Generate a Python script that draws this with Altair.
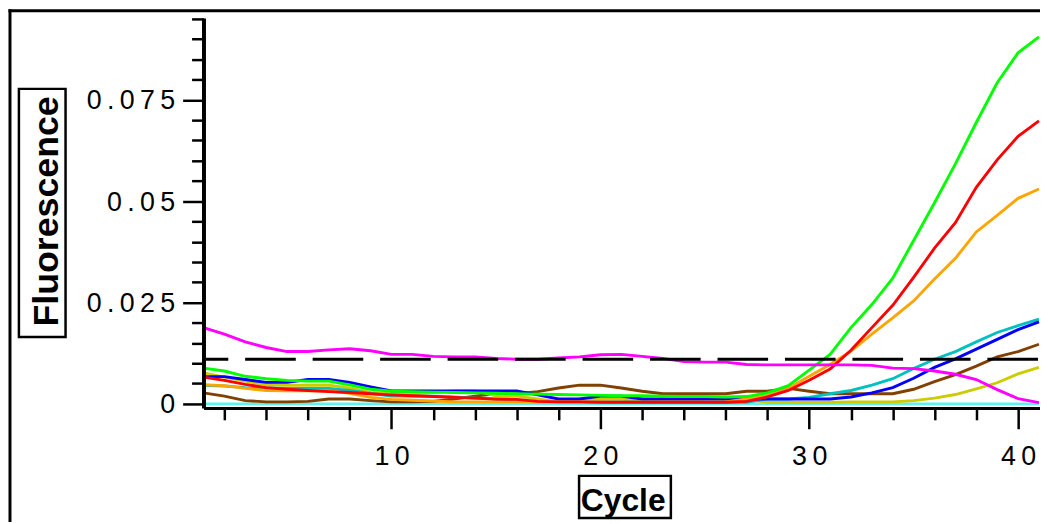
import altair as alt
import pandas as pd

# ---------------- data ----------------
cycles = list(range(1, 42))

ntc = [0.0, 0.0, 0.0, 0.0, 0.0, 0.0, 0.0, 0.0, 0.0, 0.0,
       0.0, 0.0, 0.0, 0.0, 0.0, 0.0, 0.0, 0.0, 0.0, 0.0,
       0.0, 0.0, 0.0, 0.0, 0.0, 0.0, 0.0, 0.0, 0.0, 0.0,
       0.0, 0.0, 0.0, 0.0, 0.0, 0.0, 0.0, 0.0, 0.0, 0.0, 0.0]
brown = [0.0027, 0.0019, 0.0008, 0.0005, 0.0005, 0.0006, 0.0012, 0.0012, 0.0008, 0.0005,
         0.0005, 0.0006, 0.0012, 0.0019, 0.0025, 0.0025, 0.0030, 0.0039, 0.0046, 0.0046,
         0.0039, 0.0031, 0.0025, 0.0025, 0.0025, 0.0025, 0.0031, 0.0031, 0.0038, 0.0031,
         0.0025, 0.0025, 0.0025, 0.0025, 0.0036, 0.0055, 0.0072, 0.0093, 0.0116, 0.0129, 0.0147]
yellow = [0.0076, 0.0066, 0.0056, 0.0047, 0.0046, 0.0046, 0.0046, 0.0039, 0.0028, 0.0025,
          0.0025, 0.0028, 0.0032, 0.0032, 0.0020, 0.0019, 0.0012, 0.0005, 0.0012, 0.0012,
          0.0012, 0.0006, 0.0012, 0.0006, 0.0012, 0.0012, 0.0012, 0.0004, 0.0004, 0.0004,
          0.0004, 0.0005, 0.0005, 0.0005, 0.0008, 0.0014, 0.0023, 0.0037, 0.0052, 0.0074, 0.0090]
teal = [0.0046, 0.0044, 0.0040, 0.0039, 0.0038, 0.0038, 0.0038, 0.0033, 0.0026, 0.0019,
        0.0019, 0.0019, 0.0017, 0.0014, 0.0011, 0.0006, 0.0005, 0.0005, 0.0005, 0.0005,
        0.0005, 0.0005, 0.0004, 0.0004, 0.0004, 0.0004, 0.0004, 0.0012, 0.0012, 0.0016,
        0.0025, 0.0033, 0.0046, 0.0062, 0.0087, 0.0110, 0.0129, 0.0153, 0.0176, 0.0193, 0.0209]
blue = [0.0067, 0.0067, 0.0060, 0.0053, 0.0053, 0.0060, 0.0060, 0.0053, 0.0042, 0.0032,
        0.0032, 0.0032, 0.0032, 0.0032, 0.0032, 0.0032, 0.0022, 0.0012, 0.0012, 0.0019,
        0.0019, 0.0012, 0.0012, 0.0012, 0.0012, 0.0012, 0.0012, 0.0012, 0.0012, 0.0012,
        0.0012, 0.0017, 0.0027, 0.0040, 0.0063, 0.0090, 0.0111, 0.0135, 0.0159, 0.0183, 0.0202]
orange = [0.0047, 0.0045, 0.0038, 0.0033, 0.0032, 0.0032, 0.0032, 0.0026, 0.0016, 0.0011,
          0.0009, 0.0007, 0.0005, 0.0005, 0.0005, 0.0005, 0.0005, 0.0005, 0.0005, 0.0005,
          0.0004, 0.0004, 0.0004, 0.0004, 0.0004, 0.0005, 0.0012, 0.0020, 0.0038, 0.0068,
          0.0097, 0.0130, 0.0172, 0.0212, 0.0254, 0.0308, 0.0359, 0.0424, 0.0465, 0.0507, 0.0530]
red = [0.0066, 0.0058, 0.0048, 0.0040, 0.0036, 0.0033, 0.0030, 0.0028, 0.0025, 0.0022,
       0.0020, 0.0018, 0.0016, 0.0014, 0.0012, 0.0011, 0.0006, 0.0005, 0.0005, 0.0004,
       0.0004, 0.0004, 0.0004, 0.0004, 0.0004, 0.0004, 0.0006, 0.0017, 0.0033, 0.0058,
       0.0086, 0.0132, 0.0188, 0.0243, 0.0312, 0.0384, 0.0447, 0.0534, 0.0602, 0.0660, 0.0698]
green = [0.0088, 0.0081, 0.0068, 0.0062, 0.0058, 0.0056, 0.0056, 0.0047, 0.0036, 0.0031,
         0.0030, 0.0029, 0.0028, 0.0027, 0.0026, 0.0025, 0.0024, 0.0023, 0.0022, 0.0021,
         0.0020, 0.0020, 0.0019, 0.0018, 0.0018, 0.0017, 0.0018, 0.0027, 0.0045, 0.0083,
         0.0122, 0.0188, 0.0245, 0.0310, 0.0403, 0.0496, 0.0592, 0.0694, 0.0792, 0.0866, 0.0905]
magenta = [0.0188, 0.0172, 0.0153, 0.0139, 0.0129, 0.0129, 0.0133, 0.0136, 0.0131, 0.0122,
           0.0122, 0.0117, 0.0116, 0.0116, 0.0112, 0.0110, 0.0110, 0.0113, 0.0116, 0.0121,
           0.0122, 0.0117, 0.0112, 0.0104, 0.0103, 0.0103, 0.0097, 0.0096, 0.0096, 0.0096,
           0.0096, 0.0096, 0.0095, 0.0088, 0.0087, 0.0081, 0.0073, 0.0060, 0.0035, 0.0013, 0.0003]

series_names = ["NTC", "Brown", "Yellow", "Teal", "Blue", "Orange", "Red", "Green", "Magenta"]
series_values = [ntc, brown, yellow, teal, blue, orange, red, green, magenta]
series_colors = ["#5ff0f0", "#804000", "#cccc00", "#00c0c0", "#0000ff",
                 "#ffa500", "#ff0000", "#00ff00", "#ff00ff"]

threshold = [0.011]
x_major = [10, 20, 30, 40]
x_minor = [2, 4, 6, 8, 12, 14, 16, 18, 22, 24, 26, 28, 32, 34, 36, 38]
y_major = [0, 0.025, 0.05, 0.075]
y_minor = [0.005, 0.01, 0.015, 0.02, 0.03, 0.035, 0.04, 0.045, 0.055, 0.06,
           0.065, 0.07, 0.08, 0.085, 0.09, 0.095]

rows = []
for name, vals in zip(series_names, series_values):
    for c, v in zip(cycles, vals):
        rows.append({"Cycle": c, "Fluorescence": v, "Sample": name})
df = pd.DataFrame(rows)

# ---------------- chart ----------------
W, H = 843, 393
FONT = "Liberation Sans"
xscale = alt.Scale(domain=[1, 41.05], nice=False, zero=False)
yscale = alt.Scale(domain=[-0.001, 0.0952], nice=False, zero=False)
spaced = "join(split(datum.label, ''), '\u2009')"

lines = alt.Chart(df).mark_line(strokeWidth=2.9, clip=True).encode(
    x=alt.X("Cycle:Q", scale=xscale, axis=alt.Axis(
        orient="bottom", values=x_major, format="d", labelExpr=spaced,
        tickSize=21, tickWidth=2.5, tickColor="black",
        domainWidth=3, domainColor="black", grid=False,
        labelFont=FONT, labelFontSize=27, labelColor="black",
        labelPadding=15, labelBaseline="top", labelFlush=False, labelOverlap=False,
        title="Cycle", titleFont=FONT, titleFontSize=32, titleFontWeight="bold",
        titleColor="black", titleX=422.5, titleY=103.7, titleAlign="center",
        titleBaseline="alphabetic", zindex=1)),
    y=alt.Y("Fluorescence:Q", scale=yscale, axis=alt.Axis(
        orient="left", values=y_major, format=".3~f", labelExpr=spaced,
        tickSize=21, tickWidth=2.5, tickColor="black",
        domainWidth=4, domainColor="black", grid=False,
        labelFont=FONT, labelFontSize=27, labelColor="black",
        labelPadding=8, labelBaseline="middle", labelOffset=1,
        labelFlush=False, labelOverlap=False,
        title="Fluorescence", titleFont=FONT, titleFontSize=36, titleFontWeight="bold",
        titleColor="black", titleAngle=270, titleX=-147.3, titleY=194.5,
        titleAlign="center", titleBaseline="alphabetic", zindex=1)),
    color=alt.Color("Sample:N", scale=alt.Scale(domain=series_names, range=series_colors),
                    legend=None),
)

thr = alt.Chart(pd.DataFrame({"t": threshold})).mark_rule(
    color="black", strokeWidth=3, strokeDash=[51, 17], strokeDashOffset=-2
).encode(
    y=alt.Y("t:Q", scale=yscale, axis=alt.Axis(
        orient="left", values=y_minor, labels=False, tickSize=12, tickWidth=2.5,
        tickColor="black", domain=False, grid=False, title=None, zindex=1)),
)

minor_x = alt.Chart(pd.DataFrame({"m": x_minor})).mark_point(opacity=0, size=1).encode(
    x=alt.X("m:Q", scale=xscale, axis=alt.Axis(
        orient="bottom", values=x_minor, labels=False, tickSize=12, tickWidth=2.5,
        tickColor="black", domain=False, grid=False, title=None, zindex=1)),
)

one = alt.Data(values=[{}])
frame_top = alt.Chart(one).mark_rule(color="black", strokeWidth=3).encode(
    x=alt.value(-196.5), x2=alt.value(W), y=alt.value(-7.3))
frame_left = alt.Chart(one).mark_rule(color="black", strokeWidth=3).encode(
    x=alt.value(-195), y=alt.value(-8.8), y2=alt.value(H + 115))
ybox = alt.Chart(one).mark_rect(fillOpacity=0, stroke="black", strokeWidth=2.5).encode(
    x=alt.value(-186), x2=alt.value(-139), y=alt.value(71.5), y2=alt.value(321.5))
xbox = alt.Chart(one).mark_rect(fillOpacity=0, stroke="black", strokeWidth=2.5).encode(
    x=alt.value(378.5), x2=alt.value(471), y=alt.value(461.5), y2=alt.value(504))

chart = alt.layer(lines, thr, minor_x, frame_top, frame_left, ybox, xbox).resolve_axis(
    x="independent", y="independent"
).properties(
    width=W, height=H,
    padding={"left": 197, "top": 8, "right": 0, "bottom": 115},
    autosize=alt.AutoSizeParams(type="none"),
    background="white",
).configure_view(stroke=None)

chart.save("out.html", embed_options={"renderer": "svg", "actions": False})
